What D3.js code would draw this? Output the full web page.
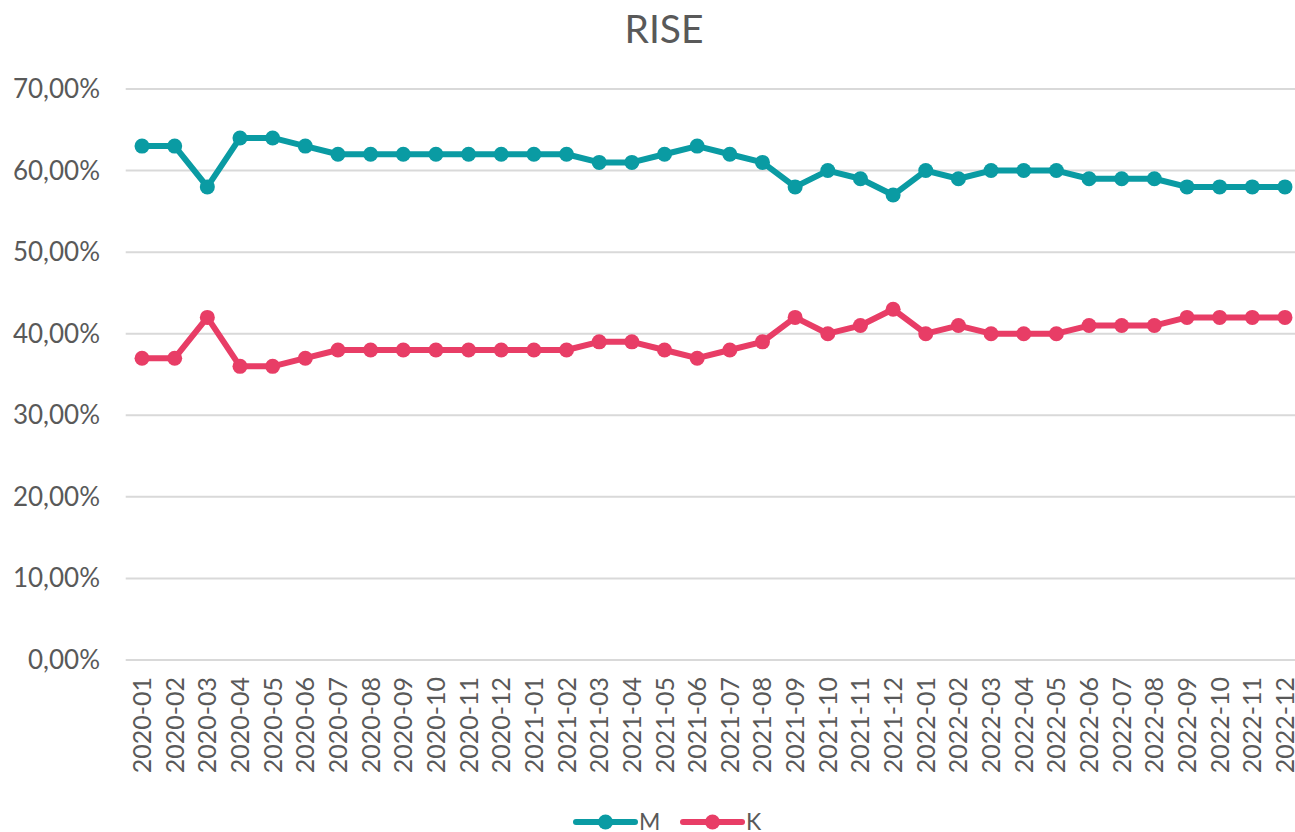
<!DOCTYPE html>
<html>
<head>
<meta charset="utf-8">
<script src="https://cdn.jsdelivr.net/npm/d3@7"></script>
<style>
  body { margin: 0; background: #fff; }
  svg { font-family: Lato, "Open Sans", sans-serif; }
</style>
</head>
<body>
<svg id="chart" width="1295" height="832"></svg>
<script>
// data
const months = [
  "2020-01","2020-02","2020-03","2020-04","2020-05","2020-06","2020-07","2020-08","2020-09","2020-10","2020-11","2020-12",
  "2021-01","2021-02","2021-03","2021-04","2021-05","2021-06","2021-07","2021-08","2021-09","2021-10","2021-11","2021-12",
  "2022-01","2022-02","2022-03","2022-04","2022-05","2022-06","2022-07","2022-08","2022-09","2022-10","2022-11","2022-12"
];
const valuesM = [63,63,58,64,64,63,62,62,62,62,62,62,62,62,61,61,62,63,62,61,58,60,59,57,60,59,60,60,60,59,59,59,58,58,58,58];
const valuesK = [37,37,42,36,36,37,38,38,38,38,38,38,38,38,39,39,38,37,38,39,42,40,41,43,40,41,40,40,40,41,41,41,42,42,42,42];
const yTicks = [0,10,20,30,40,50,60,70];

const series = [
  { name: "M", color: "#0a9ba3", values: valuesM },
  { name: "K", color: "#e83d66", values: valuesK }
];

const svg = d3.select("#chart");
const plotLeft = 125.7, plotRight = 1301.3, plotTop = 89, plotBottom = 660;

const x = d3.scaleBand().domain(months).range([plotLeft, plotRight]);
const y = d3.scaleLinear().domain([0, 70]).range([plotBottom, plotTop]);

// title
svg.append("text")
  .attr("x", 664).attr("y", 43)
  .attr("text-anchor", "middle")
  .attr("fill", "#595959")
  .style("font-size", "39px")
  .text("RISE");

// grid
svg.append("g")
  .selectAll("line")
  .data(yTicks)
  .join("line")
  .attr("x1", plotLeft).attr("x2", 1295)
  .attr("y1", d => y(d)).attr("y2", d => y(d))
  .attr("stroke", "#d9d9d9")
  .attr("stroke-width", 2);

// y labels
svg.append("g")
  .selectAll("text")
  .data(yTicks)
  .join("text")
  .attr("x", 100)
  .attr("y", d => y(d) + 9)
  .attr("text-anchor", "end")
  .attr("fill", "#595959")
  .style("font-size", "26px")
  .text(d => d3.format(".2f")(d).replace(".", ",") + "%");

// x labels
svg.append("g")
  .selectAll("text")
  .data(months)
  .join("text")
  .attr("transform", d => `translate(${x(d) + x.bandwidth() / 2 + 9},677) rotate(-90)`)
  .attr("text-anchor", "end")
  .attr("fill", "#595959")
  .style("font-size", "25px")
  .text(d => d);

// lines + markers
const line = d3.line()
  .x((d, i) => x(months[i]) + x.bandwidth() / 2)
  .y(d => y(d));

series.forEach(s => {
  const g = svg.append("g");
  g.append("path")
    .datum(s.values)
    .attr("d", line)
    .attr("fill", "none")
    .attr("stroke", s.color)
    .attr("stroke-width", 6)
    .attr("stroke-linejoin", "round");
  g.selectAll("circle")
    .data(s.values)
    .join("circle")
    .attr("cx", (d, i) => x(months[i]) + x.bandwidth() / 2)
    .attr("cy", d => y(d))
    .attr("r", 7.5)
    .attr("fill", s.color);
});

// legend
const legend = svg.append("g").attr("transform", "translate(576,822)");
series.forEach((s, i) => {
  const g = legend.append("g").attr("transform", `translate(${i * 107},0)`);
  g.append("line")
    .attr("x1", 0).attr("x2", 59)
    .attr("stroke", s.color).attr("stroke-width", 6)
    .attr("stroke-linecap", "round");
  g.append("circle").attr("cx", 29.5).attr("r", 7.5).attr("fill", s.color);
  g.append("text")
    .attr("x", 63).attr("y", 8)
    .attr("fill", "#595959")
    .style("font-size", "23px")
    .text(s.name);
});
</script>
</body>
</html>
